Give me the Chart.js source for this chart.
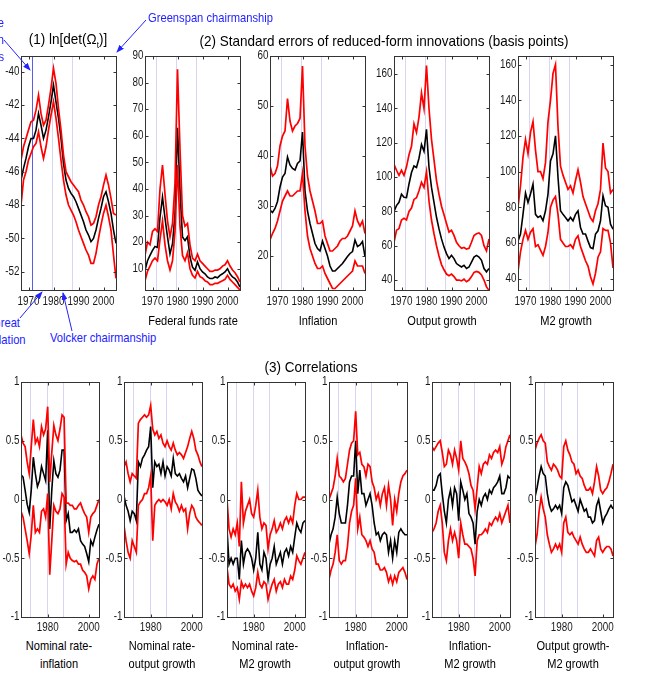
<!DOCTYPE html>
<html>
<head>
<meta charset="utf-8">
<script src="https://cdn.jsdelivr.net/npm/chart.js@4.4.0/dist/chart.umd.min.js"></script>
<style>
  body { margin: 0; background: #fff; width: 646px; height: 691px; position: relative; overflow: hidden;
         font-family: "Liberation Sans", Arial, sans-serif; }
  canvas { position: absolute; }
  .lbl { position: absolute; white-space: nowrap; color: #000; transform: translate(-50%, -50%) scaleX(0.85); font-size: 13px; }
  .ttl { font-size: 15px; transform: translate(-50%, -50%) scaleX(0.9); }
  .note { position: absolute; white-space: nowrap; color: #2222ff; font-size: 13px; line-height: 17px; }
  sub { font-size: 9px; }
  svg { position: absolute; left: 0; top: 0; }
</style>
</head>
<body>
<script>
// Years on the x axis
const years = [1967,1968,1969,1970,1971,1972,1973,1974,1975,1976,1977,1978,1979,1980,1981,1982,1983,1984,1985,1986,
               1987,1988,1989,1990,1991,1992,1993,1994,1995,1996,1997,1998,1999,2000,2001,2002,2003,2004,2005];
const eventYears = [1971.6, 1979.6, 1987.5];
const topYearTicks = [1970, 1980, 1990, 2000];
const bottomYearTicks = [1980, 2000];

// (1) ln[det(Omega_t)]
const lndetMid = [-46.5,-45.8,-45.2,-44.5,-44.0,-44.0,-43.5,-42.5,-43.2,-44.0,-43.5,-42.7,-41.8,-40.8,-41.8,-42.8,-44.0,-45.5,-46.5,-47.0,-47.3,-47.5,-47.8,-48.2,-48.6,-49.0,-49.5,-49.8,-50.2,-50.0,-49.5,-48.8,-48.2,-47.5,-47.2,-47.8,-48.5,-49.5,-50.3];
const lndetHi  = [-45.3,-44.5,-44.0,-43.5,-43.0,-42.9,-42.3,-41.4,-42.5,-43.2,-42.9,-42.0,-41.0,-39.8,-40.7,-42.2,-43.5,-45.0,-46.0,-46.3,-46.6,-46.8,-47.0,-47.2,-47.7,-48.0,-48.4,-48.7,-49.2,-49.1,-48.7,-48.0,-47.5,-46.8,-46.2,-46.8,-47.6,-48.5,-48.6];
const lndetLo  = [-48.0,-46.5,-46.0,-45.3,-44.9,-44.5,-44.3,-43.6,-44.5,-45.2,-44.5,-43.5,-42.6,-41.8,-42.8,-44.0,-45.3,-46.5,-47.4,-48.0,-48.3,-48.6,-49.0,-49.5,-49.9,-50.3,-50.7,-51.0,-51.5,-51.5,-50.9,-50.0,-49.2,-48.5,-48.0,-48.7,-49.5,-51.0,-52.4];
const lndetTicks = [-52,-50,-48,-46,-44,-42,-40];

// (2) standard errors, basis points
const ffMid = [9.4,13,15,16.9,18.4,18,29.4,36.9,29,22,15.6,19.4,30.6,63,39.4,21.9,20.6,22,14.4,10.6,9.4,12.5,10,8.8,8.1,6.9,6.3,6.3,6.9,6.6,7.5,8.1,8.8,10,8.1,6.9,6.3,5,3.1];
const ffHi  = [15,20,19,24,25,24,40,49,38,28,22,27,42,85,55,30,26,27,19,14,13,15.5,13,12,11,10,9,9,9.5,9.5,10,11,11.5,13,11,9.5,8.5,7,5];
const ffLo  = [5.5,9,11,13,14,13,21,28,19,13,9.5,13,24,49,26,15,13,16,10,7.5,6.5,9,7,6.5,5.5,5,4,4,4.5,4.5,5,5.5,6,7.5,6,5,4,3,2];
const ffTicks = [10,20,30,40,50,60,70,80,90];

const infMid = [29.2,28.7,29.5,30.9,33.8,35.8,36.5,39.8,38.2,37.5,37.2,38.5,39,44.8,33,29,26.5,24.5,22.5,21.5,21,23,21.5,20,18,17,17,17.5,18,18.5,19.2,19.9,20.5,20.9,23.2,21.9,22.2,22.9,19.9];
const infHi  = [38,36,36.5,38,42,44,45,51.5,47,45,46,46.5,47.5,58,42,36,33,31,29,26.5,26.5,27,24,22.5,21,21,21.5,22,23,23.5,23.5,24,25,26,29,27,26,27,24.5];
const infLo  = [23.2,24.5,25.5,27,29,31,32,33,32,32,32.5,33,33,36.5,29,24,21.5,20,18.5,17.5,17.5,18,16.5,15.5,14.5,13.5,13.5,14,14.5,15,15.5,16,16.5,17,19,18,18,18,16.5];
const infTicks = [20,30,40,50,60];

const ygMid = [80,83.4,85.3,90,88.2,88,96,102.7,106.5,105.6,111,119,115,127.8,105.6,94,85.3,76.6,69.8,64,59.2,55.4,52.5,54.4,52.5,49.6,48.6,47.6,48.6,46.7,47.6,50.5,53.4,54.4,53.4,51.5,46.7,44.8,46.7];
const ygHi  = [107.5,104,101,104,101,106,113,118,131,126,135,149,140,165,140,122,110,98,90,83,78,73,68,69,66,62,60,58.5,59,58,58.5,62,66,67,67.5,66,60,57,64];
const ygLo  = [62,69,70,75,76,75,80,82,87,88,92,97,94,103,86,75,67,60,54,49,46,43.5,42.5,43.5,42,40,40,39.5,40.5,39,40,42,44.5,45,44.5,43,40,36,34];
const ygTicks = [40,60,80,100,120,140,160];

const m2Mid = [61,65,76,88,82.7,87.4,93,76,74.3,75.2,72.4,78,87.4,106,110,120,96.8,78,76,74.3,72.4,74.3,72.4,76,78,68.6,65,65,61,57.4,56.8,65,66.8,72.4,86.5,80.8,80,70.5,67.7];
const m2Hi  = [80,92,108,118,110,122,128,112,100,100,96,105,128,140,155,160,125,103,98,94,90,92,88,95,101,94,86,82,78,74,72,78,82,90,116,102,100,88,90];
const m2Lo  = [44,55,62,67,62,66,68,58,59,56,53,58,66,80,84,86,76,62,60,58,58,59,57,62,64,58,54,50,47,41,37,43,52,55,68,67,67,60,46];
const m2Ticks = [40,60,80,100,120,140,160];

// (3) correlations
const corrTicks = [-1,-0.5,0,0.5,1];

const riMid = [0.21,0.19,0.08,-0.04,-0.11,0.08,0.36,0.22,0.11,0.16,0.28,0.22,0.16,0.59,-0.25,0.08,0.33,0.22,0.19,0.25,0.42,0.42,-0.18,-0.12,-0.28,-0.28,-0.26,-0.28,-0.25,-0.35,-0.38,-0.40,-0.46,-0.53,-0.35,-0.39,-0.32,-0.26,-0.21];
const riHi  = [0.55,0.48,0.45,0.32,0.22,0.45,0.68,0.48,0.52,0.45,0.62,0.55,0.60,0.79,0.15,0.40,0.63,0.55,0.50,0.60,0.72,0.70,-0.03,-0.03,-0.05,-0.05,-0.08,-0.08,-0.05,-0.03,-0.08,-0.12,-0.15,-0.28,-0.15,-0.12,-0.10,-0.05,0.0];
const riLo  = [-0.10,-0.15,-0.25,-0.35,-0.46,-0.30,-0.05,-0.28,-0.25,-0.28,-0.10,-0.08,-0.15,0.05,-0.64,-0.35,-0.05,-0.10,-0.12,-0.08,0.05,0.02,-0.55,-0.45,-0.50,-0.52,-0.53,-0.52,-0.55,-0.55,-0.60,-0.62,-0.65,-0.76,-0.68,-0.65,-0.68,-0.55,-0.50];

const ryMid = [0.03,-0.05,-0.10,-0.18,-0.10,-0.12,-0.18,0.32,0.28,0.35,0.38,0.42,0.45,0.62,0.10,0.32,0.28,0.30,0.22,0.32,0.20,0.28,0.25,0.20,0.35,0.22,0.20,0.22,0.18,0.15,0.20,0.10,0.18,0.26,0.25,0.18,0.08,0.05,0.03];
const ryHi  = [0.28,0.32,0.22,0.15,0.22,0.20,0.18,0.65,0.68,0.70,0.72,0.70,0.72,0.80,0.60,0.55,0.58,0.52,0.55,0.48,0.45,0.50,0.45,0.42,0.48,0.42,0.38,0.40,0.38,0.35,0.40,0.45,0.52,0.58,0.52,0.42,0.38,0.32,0.28];
const ryLo  = [-0.22,-0.35,-0.45,-0.50,-0.35,-0.40,-0.45,-0.05,-0.02,0.0,0.05,0.05,0.10,0.20,-0.35,-0.05,-0.02,0.0,-0.02,0.0,-0.02,-0.05,0.0,-0.08,0.05,-0.02,-0.05,-0.10,-0.05,-0.10,-0.08,-0.25,-0.12,-0.05,-0.08,-0.15,-0.18,-0.20,-0.22];

const rmMid = [-0.25,-0.55,-0.50,-0.55,-0.50,-0.50,-0.68,-0.35,-0.55,-0.45,-0.42,-0.45,-0.50,-0.60,-0.50,-0.28,-0.55,-0.60,-0.45,-0.50,-0.68,-0.55,-0.50,-0.40,-0.55,-0.50,-0.45,-0.55,-0.45,-0.42,-0.48,-0.40,-0.45,-0.32,-0.20,-0.25,-0.28,-0.20,-0.18];
const rmHi  = [0.0,-0.25,-0.32,-0.25,-0.30,-0.20,-0.40,0.15,-0.20,-0.10,-0.05,0.0,-0.12,-0.15,-0.05,0.08,-0.15,-0.25,-0.20,-0.22,-0.42,-0.30,-0.25,-0.18,-0.28,-0.25,-0.20,-0.25,-0.18,-0.15,-0.20,-0.15,-0.20,-0.05,0.05,0.0,0.0,0.02,0.02];
const rmLo  = [-0.58,-0.72,-0.75,-0.72,-0.78,-0.75,-0.85,-0.70,-0.75,-0.72,-0.75,-0.72,-0.78,-0.82,-0.75,-0.62,-0.72,-0.75,-0.70,-0.72,-0.85,-0.78,-0.72,-0.68,-0.78,-0.72,-0.70,-0.75,-0.68,-0.72,-0.72,-0.65,-0.68,-0.60,-0.48,-0.52,-0.55,-0.50,-0.45];

const iyMid = [-0.38,-0.30,-0.25,-0.15,0.02,-0.12,-0.20,-0.20,-0.20,-0.05,0.15,0.20,0.20,0.50,0.05,0.25,0.05,0.05,-0.05,0.0,0.05,-0.05,-0.20,-0.30,-0.28,-0.35,-0.30,-0.28,-0.30,-0.45,-0.35,-0.50,-0.35,-0.45,-0.28,-0.25,-0.28,-0.30,-0.30];
const iyHi  = [0.0,0.05,0.10,0.20,0.35,0.20,0.18,0.15,0.18,0.30,0.42,0.48,0.50,0.75,0.38,0.40,0.30,0.28,0.20,0.30,0.28,0.15,0.10,0.0,0.05,-0.05,0.05,0.10,-0.05,0.12,0.0,-0.22,0.0,-0.10,0.05,0.15,0.20,0.22,0.25];
const iyLo  = [-0.68,-0.60,-0.55,-0.45,-0.30,-0.52,-0.55,-0.52,-0.52,-0.40,-0.20,-0.10,-0.05,0.18,-0.25,-0.15,-0.30,-0.32,-0.35,-0.40,-0.35,-0.42,-0.45,-0.55,-0.55,-0.60,-0.60,-0.58,-0.62,-0.70,-0.65,-0.72,-0.65,-0.70,-0.62,-0.60,-0.58,-0.62,-0.68];

const imMid = [0.08,0.08,0.12,0.20,0.22,0.05,-0.10,-0.20,0.0,0.08,-0.05,0.10,0.05,-0.18,0.15,0.08,0.0,0.05,-0.12,-0.15,-0.20,-0.38,-0.10,0.0,-0.05,0.02,0.05,0.0,0.08,0.05,0.10,0.12,0.15,0.20,0.05,0.05,0.10,0.20,0.18];
const imHi  = [0.45,0.42,0.45,0.48,0.50,0.40,0.28,0.30,0.42,0.38,0.30,0.42,0.35,0.25,0.50,0.35,0.32,0.28,0.22,0.12,0.08,-0.08,0.10,0.28,0.22,0.30,0.32,0.30,0.38,0.35,0.40,0.42,0.40,0.45,0.30,0.35,0.45,0.50,0.55];
const imLo  = [-0.28,-0.25,-0.20,-0.10,-0.05,-0.20,-0.45,-0.52,-0.35,-0.25,-0.35,-0.28,-0.35,-0.50,-0.20,-0.30,-0.38,-0.38,-0.40,-0.42,-0.50,-0.65,-0.35,-0.30,-0.30,-0.28,-0.25,-0.28,-0.20,-0.22,-0.18,-0.15,-0.18,-0.12,-0.20,-0.15,-0.10,-0.05,-0.20];

const ymMid = [0.02,0.10,0.20,0.28,0.22,0.20,0.05,-0.05,-0.10,-0.08,-0.05,-0.08,-0.05,-0.12,0.10,0.15,0.12,0.05,-0.02,0.0,-0.05,-0.10,0.0,-0.05,-0.10,-0.08,-0.15,-0.15,-0.20,-0.18,-0.05,0.0,-0.10,-0.20,-0.15,-0.12,-0.08,-0.05,-0.08];
const ymHi  = [0.42,0.48,0.52,0.55,0.50,0.48,0.32,0.28,0.25,0.30,0.28,0.25,0.20,0.18,0.45,0.50,0.42,0.38,0.32,0.30,0.22,0.25,0.20,0.18,0.12,0.08,0.08,0.10,0.05,0.15,0.28,0.20,0.08,0.05,0.08,0.10,0.15,0.22,0.30];
const ymLo  = [-0.40,-0.30,-0.10,0.02,-0.08,-0.15,-0.30,-0.38,-0.45,-0.42,-0.38,-0.42,-0.38,-0.45,-0.20,-0.15,-0.28,-0.30,-0.28,-0.32,-0.35,-0.38,-0.32,-0.38,-0.42,-0.45,-0.45,-0.42,-0.45,-0.48,-0.35,-0.32,-0.42,-0.45,-0.42,-0.40,-0.40,-0.42,-0.48];

// Panel layout (plot-area rectangles in page pixels)
const panels = [
  { l: 21,  t: 56,  w: 95, h: 234, mid: lndetMid, hi: lndetHi, lo: lndetLo, yMin: -53.1, yMax: -39.05, yTicks: lndetTicks, xTicks: topYearTicks, firstDark: true },
  { l: 145, t: 56,  w: 95, h: 234, mid: ffMid,  hi: ffHi,  lo: ffLo,  yMin: 2,    yMax: 90,    yTicks: ffTicks,  xTicks: topYearTicks },
  { l: 270, t: 56,  w: 95, h: 234, mid: infMid, hi: infHi, lo: infLo, yMin: 13.2, yMax: 60,    yTicks: infTicks, xTicks: topYearTicks },
  { l: 394, t: 56,  w: 95, h: 234, mid: ygMid,  hi: ygHi,  lo: ygLo,  yMin: 34.2, yMax: 170.6, yTicks: ygTicks,  xTicks: topYearTicks },
  { l: 518, t: 56,  w: 95, h: 234, mid: m2Mid,  hi: m2Hi,  lo: m2Lo,  yMin: 33.6, yMax: 164.8, yTicks: m2Ticks,  xTicks: topYearTicks },
  { l: 21,  t: 382, w: 78, h: 235, mid: riMid, hi: riHi, lo: riLo, yMin: -1, yMax: 1, yTicks: corrTicks, xTicks: bottomYearTicks },
  { l: 124, t: 382, w: 78, h: 235, mid: ryMid, hi: ryHi, lo: ryLo, yMin: -1, yMax: 1, yTicks: corrTicks, xTicks: bottomYearTicks },
  { l: 227, t: 382, w: 78, h: 235, mid: rmMid, hi: rmHi, lo: rmLo, yMin: -1, yMax: 1, yTicks: corrTicks, xTicks: bottomYearTicks },
  { l: 329, t: 382, w: 78, h: 235, mid: iyMid, hi: iyHi, lo: iyLo, yMin: -1, yMax: 1, yTicks: corrTicks, xTicks: bottomYearTicks },
  { l: 432, t: 382, w: 78, h: 235, mid: imMid, hi: imHi, lo: imLo, yMin: -1, yMax: 1, yTicks: corrTicks, xTicks: bottomYearTicks },
  { l: 535, t: 382, w: 78, h: 235, mid: ymMid, hi: ymHi, lo: ymLo, yMin: -1, yMax: 1, yTicks: corrTicks, xTicks: bottomYearTicks }
];

// vertical event lines, box, inward ticks and condensed tick labels
const boxPlugin = {
  id: 'box',
  beforeDatasetsDraw(chart, args, opts) {
    const { ctx, chartArea: a, scales: { x } } = chart;
    ctx.save();
    ctx.lineWidth = 1;
    eventYears.forEach((yr, i) => {
      const px = Math.round(x.getPixelForValue(yr)) + 0.5;
      ctx.strokeStyle = (opts.firstDark && i === 0) ? '#5c5ce8' : '#d6d6f4';
      ctx.beginPath(); ctx.moveTo(px, a.top); ctx.lineTo(px, a.bottom); ctx.stroke();
    });
    ctx.restore();
  },
  afterDraw(chart, args, opts) {
    const { ctx, chartArea: a, scales: { x, y } } = chart;
    ctx.save();
    ctx.strokeStyle = '#333';
    ctx.lineWidth = 1;
    const L = Math.round(a.left) + 0.5, R = Math.round(a.right) + 0.5;
    const T = Math.round(a.top) + 0.5, B = Math.round(a.bottom) + 0.5;
    ctx.strokeRect(L, T, R - L, B - T);
    ctx.beginPath();
    y.ticks.forEach(t => {
      const py = Math.round(y.getPixelForValue(t.value)) + 0.5;
      ctx.moveTo(L, py); ctx.lineTo(L + 3, py);
      ctx.moveTo(R, py); ctx.lineTo(R - 3, py);
    });
    x.ticks.forEach(t => {
      const px = Math.round(x.getPixelForValue(t.value)) + 0.5;
      ctx.moveTo(px, B); ctx.lineTo(px, B - 3);
      ctx.moveTo(px, T); ctx.lineTo(px, T + 3);
    });
    ctx.stroke();

    ctx.fillStyle = '#1a1a1a';
    ctx.font = '12px "Liberation Sans", Arial, sans-serif';
    ctx.textAlign = 'right';
    ctx.textBaseline = 'middle';
    y.ticks.forEach(t => {
      ctx.save();
      ctx.translate(L - 2, y.getPixelForValue(t.value));
      ctx.scale(0.82, 1);
      ctx.fillText(String(t.value), 0, 0);
      ctx.restore();
    });
    ctx.textAlign = 'center';
    ctx.textBaseline = 'top';
    x.ticks.forEach(t => {
      ctx.save();
      ctx.translate(x.getPixelForValue(t.value), B + opts.xPad);
      ctx.scale(0.82, 1);
      ctx.fillText(String(t.value), 0, 0);
      ctx.restore();
    });
    ctx.restore();
  }
};

function toPoints(arr) {
  return years.map((yr, i) => ({ x: yr, y: arr[i] }));
}

function makePanel(p) {
  const padL = 34, padT = 8, padR = 8, padB = 20;
  const cv = document.createElement('canvas');
  cv.width = p.w + padL + padR;
  cv.height = p.h + padT + padB;
  cv.style.left = (p.l - padL) + 'px';
  cv.style.top = (p.t - padT) + 'px';
  document.body.appendChild(cv);

  const line = (arr, color, width) => ({
    data: toPoints(arr), borderColor: color, borderWidth: width,
    pointRadius: 0, tension: 0, fill: false
  });

  const chart = new Chart(cv, {
    type: 'line',
    data: { datasets: [line(p.lo, '#ff0000', 1.7), line(p.hi, '#ff0000', 1.7), line(p.mid, '#000000', 1.6)] },
    options: {
      responsive: false,
      maintainAspectRatio: false,
      animation: false,
      layout: { padding: { left: 0, top: padT, right: padR, bottom: 0 } },
      plugins: {
        legend: { display: false }, tooltip: { enabled: false },
        box: { firstDark: !!p.firstDark, xPad: p.t < 200 ? 5 : 4 }
      },
      scales: {
        x: {
          type: 'linear', min: 1967, max: 2005,
          grid: { display: false }, border: { display: false },
          afterBuildTicks: s => { s.ticks = p.xTicks.map(v => ({ value: v })); },
          afterFit: s => { s.height = padB; },
          ticks: { display: false }
        },
        y: {
          min: p.yMin, max: p.yMax,
          grid: { display: false }, border: { display: false },
          afterBuildTicks: s => { s.ticks = p.yTicks.map(v => ({ value: v })); },
          afterFit: s => { s.width = padL; },
          ticks: { display: false }
        }
      }
    },
    plugins: [boxPlugin]
  });

  // keep the plot area where it belongs
  const a = chart.chartArea;
  cv.style.left = (p.l - a.left) + 'px';
  cv.style.top = (p.t - a.top) + 'px';
}

panels.forEach(makePanel);

// Text
function addText(html, x, y, cls) {
  const d = document.createElement('div');
  d.className = 'lbl' + (cls ? ' ' + cls : '');
  d.innerHTML = html;
  d.style.left = x + 'px';
  d.style.top = y + 'px';
  document.body.appendChild(d);
}

addText('(1) ln[det(&Omega;<sub>t</sub>)]', 68, 40, 'ttl');
addText('(2) Standard errors of reduced-form innovations (basis points)', 384, 40, 'ttl');
addText('(3) Correlations', 311, 366, 'ttl');

const topLabels = ['Federal funds rate', 'Inflation', 'Output growth', 'M2 growth'];
topLabels.forEach((t, i) => addText(t, panels[i + 1].l + panels[i + 1].w / 2, 320));

const bottomLabels = [
  ['Nominal rate-', 'inflation'], ['Nominal rate-', 'output growth'], ['Nominal rate-', 'M2 growth'],
  ['Inflation-', 'output growth'], ['Inflation-', 'M2 growth'], ['Output growth-', 'M2 growth']
];
bottomLabels.forEach((pair, i) => {
  const p = panels[i + 5];
  addText(pair[0], p.l + p.w / 2 - 1, 645);
  addText(pair[1], p.l + p.w / 2 - 1, 663);
});

// Annotations
function addNote(html, style, origin) {
  const d = document.createElement('div');
  d.className = 'note';
  d.innerHTML = html;
  Object.assign(d.style, style);
  d.style.transformOrigin = origin;
  d.style.transform = 'scaleX(0.86)';
  document.body.appendChild(d);
}
addNote('Collapse<br>of Bretton<br>Woods', { left: '-96px', width: '100px', top: '14px', textAlign: 'right' }, 'right center');
addNote('Greenspan chairmanship', { left: '148px', top: '9px' }, 'left center');
addNote('Great<br>Inflation', { left: '-44px', width: '100px', top: '314px', textAlign: 'center' }, 'center center');
addNote('Volcker chairmanship', { left: '50px', top: '329px' }, 'left center');

const svgNS = 'http://www.w3.org/2000/svg';
const svg = document.createElementNS(svgNS, 'svg');
svg.setAttribute('width', 646);
svg.setAttribute('height', 691);
svg.innerHTML = '<defs><marker id="ah" markerWidth="8" markerHeight="6" refX="7" refY="3" orient="auto">' +
  '<path d="M0,0 L8,3 L0,6 z" fill="#2222ff"/></marker></defs>';
const arrows = [[4, 40, 30, 70], [146, 20, 117, 52], [20, 318, 42, 292], [72, 331, 63, 293]];
arrows.forEach(([x1, y1, x2, y2]) => {
  const ln = document.createElementNS(svgNS, 'line');
  ln.setAttribute('x1', x1); ln.setAttribute('y1', y1);
  ln.setAttribute('x2', x2); ln.setAttribute('y2', y2);
  ln.setAttribute('stroke', '#2222ff');
  ln.setAttribute('stroke-width', 1);
  ln.setAttribute('marker-end', 'url(#ah)');
  svg.appendChild(ln);
});
document.body.appendChild(svg);
</script>
</body>
</html>
